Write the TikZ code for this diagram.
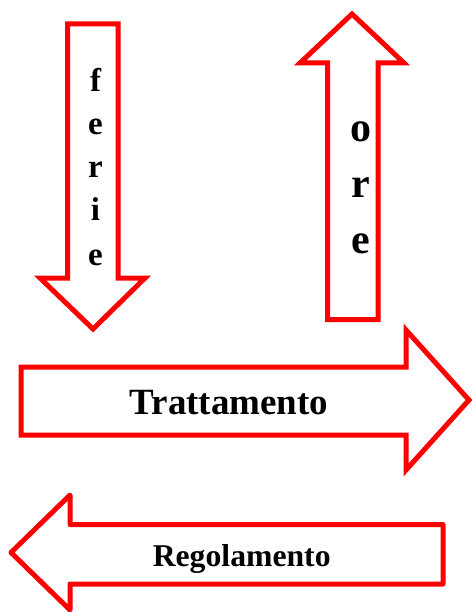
\documentclass[tikz,border=0pt]{standalone}
\usepackage{fontspec}
\setmainfont{Liberation Serif}
\begin{document}
\begin{tikzpicture}[x=1pt,y=-1pt,
  blockarrow/.style={draw=red,fill=white,line width=5pt,line join=miter},
  letterA/.style={font=\fontsize{33}{40}\selectfont\bfseries,anchor=base,inner sep=0pt},
  letterB/.style={font=\fontsize{42}{50}\selectfont\bfseries,anchor=base,inner sep=0pt},
  label/.style={anchor=base,inner sep=0pt}]
\useasboundingbox (0,0) rectangle (473,612);
% ferie (down)
\draw[blockarrow] (67.5,24) -- (118,24) -- (118,278) -- (145,278) -- (93,329) -- (40,278) -- (67.5,278) -- cycle;
\node[letterA] (f1) at (95.5,92) {f};
\node[letterA] (f2) at (95.5,135) {e};
\node[letterA] (f3) at (95.5,178) {r};
\node[letterA] (f4) at (95.5,221) {i};
\node[letterA] (f5) at (95.5,265) {e};
% ore (up)
\draw[blockarrow] (327.5,319.5) -- (327.5,63) -- (300,63) -- (352,14) -- (404,63) -- (378,63) -- (378,319.5) -- cycle;
\node[letterB] (o1) at (360.5,142) {o};
\node[letterB] (o2) at (360.5,198) {r};
\node[letterB] (o3) at (360.5,253) {e};
% Trattamento (right)
\draw[blockarrow] (21,367) -- (406,367) -- (406,330) -- (469,400) -- (406,470) -- (406,435) -- (21,435) -- cycle;
\node[label,font=\fontsize{37}{44}\selectfont\bfseries] (tr) at (229,414) {Trattamento};
% Regolamento (left)
\draw[blockarrow,line join=round] (443,524.5) -- (70,524.5) -- (70,495) -- (11,552.5) -- (70,610) -- (70,584) -- (443,584) -- cycle;
\node[label,font=\fontsize{31.7}{38}\selectfont\bfseries] (rg) at (241.7,566) {Regolamento};
\end{tikzpicture}
\end{document}
